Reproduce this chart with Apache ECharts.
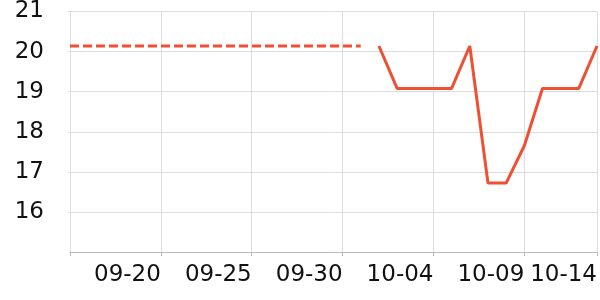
<!DOCTYPE html>
<html>
<head>
<meta charset="utf-8">
<script src="https://cdn.jsdelivr.net/npm/echarts@6/dist/echarts.min.js"></script>
<style>html,body{margin:0;padding:0;background:#fff}#c{width:600px;height:300px}</style>
</head>
<body>
<div id="c"></div>
<script>
// day offsets (0 = 09-15)
const dashedDays = [0, 1, 2, 3, 4, 5, 6, 7, 8, 9, 10, 11, 12, 13, 14, 15, 16];
const dashedValues = [20.14, 20.14, 20.14, 20.14, 20.14, 20.14, 20.14, 20.14, 20.14, 20.14, 20.14, 20.14, 20.14, 20.14, 20.14, 20.14, 20.14];
const solidDays = [17, 18, 19, 20, 21, 22, 23, 24, 25, 26, 27, 28, 29];
const solidValues = [20.14, 19.08, 19.08, 19.08, 19.08, 20.14, 16.72, 16.72, 17.65, 19.08, 19.08, 19.08, 20.14];
const tickValues = [5, 10, 15, 20, 25, 29];
const tickLabels = ['09-20', '09-25', '09-30', '10-04', '10-09', '10-14'];

const zip = (xs, ys) => xs.map((x, i) => [x, ys[i]]);
const font = 'DejaVu Sans';
const color = '#ef4f33';

const chart = echarts.init(document.getElementById('c'), null, {renderer: 'canvas'});
chart.setOption({
  animation: false,
  grid: {left: 70, right: 0, top: 10, bottom: 48},
  xAxis: {
    type: 'value', min: 0, max: 29, interval: 5,
    axisLine: {show: true, lineStyle: {color: '#bbb', width: 1}},
    axisTick: {show: true, length: 4, lineStyle: {color: '#bbb'}},
    splitLine: {show: true, lineStyle: {color: '#ddd', width: 1}},
    axisLabel: {
      fontFamily: font, fontSize: 23, color: '#111', align: 'right', margin: 12,
      formatter: v => { const i = tickValues.indexOf(v); return i >= 0 ? tickLabels[i] : ''; }
    }
  },
  yAxis: {
    type: 'value', min: 15, max: 21, interval: 1,
    axisLine: {show: false},
    axisTick: {show: true, length: 2, lineStyle: {color: '#ddd'}},
    splitLine: {show: true, lineStyle: {color: '#ddd', width: 1}},
    axisLabel: {fontFamily: font, fontSize: 23, color: '#111', margin: 26, showMinLabel: false}
  },
  series: [
    {type: 'line', data: zip(dashedDays, dashedValues), showSymbol: false,
     lineStyle: {color: color, width: 3, type: [9, 4]}},
    {type: 'line', data: zip(solidDays, solidValues), showSymbol: false,
     lineStyle: {color: color, width: 3}}
  ]
});
</script>
</body>
</html>
